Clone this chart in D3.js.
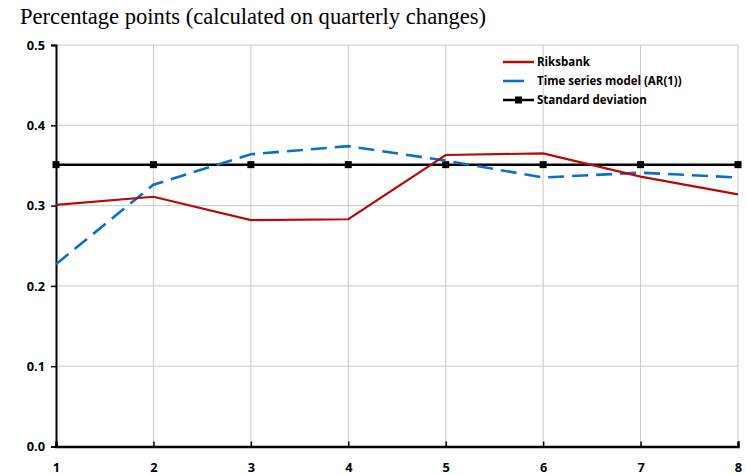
<!DOCTYPE html>
<html><head><meta charset="utf-8">
<script src="https://cdn.jsdelivr.net/npm/d3@7"></script>
<style>body{margin:0;background:#fff}</style>
</head><body>
<svg id="c" width="746" height="475"></svg>
<script>
const quarters = [1,2,3,4,5,6,7,8];
const riksbank = [0.301,0.311,0.282,0.283,0.363,0.365,0.336,0.314];
const arModel  = [0.227,0.326,0.364,0.374,0.356,0.335,0.341,0.335];
const stdDev   = [0.351,0.351,0.351,0.351,0.351,0.351,0.351,0.351];
const yTicks = [0.0,0.1,0.2,0.3,0.4,0.5];
const title = "Percentage points (calculated on quarterly changes)";
const legendLabels = ["Riksbank","Time series model (AR(1))","Standard deviation"];

const svg = d3.select("#c");
const x = d3.scaleLinear().domain([1,8]).range([56,738]);
const y = d3.scaleLinear().domain([0,0.5]).range([446.5,45]);
const grid = "#cbcbcb";
const font = "'Open Sans', 'DejaVu Sans', sans-serif";

svg.append("text").attr("x",20).attr("y",24).text(title)
  .attr("font-family","'Liberation Serif','Times New Roman',serif").attr("font-size",22.6).attr("fill","#000");

// gridlines
svg.append("g").selectAll("line").data(quarters.slice(1)).join("line")
  .attr("x1",d=>x(d)).attr("x2",d=>x(d)).attr("y1",y(0.5)).attr("y2",y(0))
  .attr("stroke",grid).attr("stroke-width",1);
svg.append("g").selectAll("line").data(yTicks.slice(1)).join("line")
  .attr("x1",x(1)).attr("x2",x(8)).attr("y1",d=>y(d)).attr("y2",d=>y(d))
  .attr("stroke",grid).attr("stroke-width",1);

// axes
const yAxis = svg.append("g").attr("transform",`translate(${x(1)},0)`)
  .call(d3.axisLeft(y).tickValues(yTicks).tickFormat(d3.format(".1f")).tickSize(5).tickPadding(6));
yAxis.select(".domain").attr("stroke","#000").attr("stroke-width",2);
yAxis.selectAll(".tick line").attr("stroke","#000").attr("stroke-width",1.5);
yAxis.selectAll("text").attr("font-family",font).attr("font-weight","bold").attr("font-size",12.8).attr("fill","#000");

const xAxis = svg.append("g").attr("transform",`translate(0,${y(0)})`)
  .call(d3.axisBottom(x).tickValues(quarters).tickFormat(d3.format("d")).tickSize(-5).tickPadding(16));
xAxis.select(".domain").attr("stroke","#000").attr("stroke-width",2.5);
xAxis.selectAll(".tick line").attr("stroke","#000").attr("stroke-width",1.5);
xAxis.selectAll("text").attr("font-family",font).attr("font-weight","bold").attr("font-size",12.8).attr("fill","#000");

const line = d3.line().x((d,i)=>x(quarters[i])).y(d=>y(d));

svg.append("path").datum(stdDev).attr("d",line).attr("fill","none")
  .attr("stroke","#000").attr("stroke-width",2.5);
svg.append("g").selectAll("rect").data(stdDev).join("rect")
  .attr("x",(d,i)=>x(quarters[i])-3.5).attr("y",d=>y(d)-3.5).attr("width",7).attr("height",7).attr("fill","#000");

svg.append("path").datum(arModel).attr("d",line).attr("fill","none")
  .attr("stroke","#0a6fcc").attr("stroke-width",2.6).attr("stroke-dasharray","16,8");
svg.append("path").datum(riksbank).attr("d",line).attr("fill","none")
  .attr("stroke","#b40a0a").attr("stroke-width",2.2);

// legend
const lg = svg.append("g");
const ly = [62,81,100];
lg.append("line").attr("x1",503).attr("x2",534).attr("y1",ly[0]).attr("y2",ly[0]).attr("stroke","#b40a0a").attr("stroke-width",2.5);
lg.append("line").attr("x1",503).attr("x2",524).attr("y1",ly[1]).attr("y2",ly[1]).attr("stroke","#0a6fcc").attr("stroke-width",2.6);
lg.append("line").attr("x1",503).attr("x2",534).attr("y1",ly[2]).attr("y2",ly[2]).attr("stroke","#000").attr("stroke-width",2.5);
lg.append("rect").attr("x",515).attr("y",ly[2]-3.5).attr("width",7).attr("height",7).attr("fill","#000");
lg.selectAll("text").data(legendLabels).join("text")
  .attr("x",537).attr("y",(d,i)=>ly[i]+4).text(d=>d)
  .attr("font-family",font).attr("font-weight","bold").attr("font-size",11.5).attr("fill","#000");
</script>
</body></html>
